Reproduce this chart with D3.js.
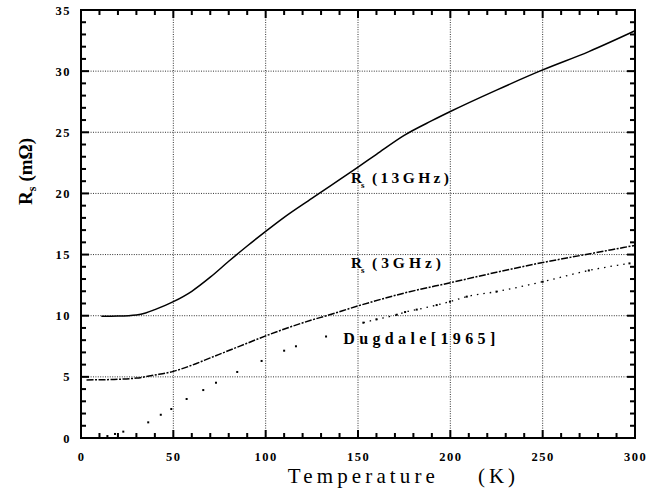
<!DOCTYPE html>
<meta charset="utf-8">
<script src="https://d3js.org/d3.v7.min.js"></script>
<div id="chart"></div>
<script>

// data: temperature (K) and surface resistance (mOhm)
var t13 = [11, 20, 30, 35, 40, 50, 60, 70, 80, 90, 100, 110, 125, 150, 160, 175, 190, 200, 225, 250, 275, 300];
var r13 = [9.95, 9.97, 10.06, 10.22, 10.5, 11.15, 12.0, 13.15, 14.45, 15.7, 16.9, 18.05, 19.6, 22.15, 23.2, 24.75, 25.95, 26.7, 28.45, 30.1, 31.6, 33.3];

var t3 = [3, 10, 20, 30, 40, 50, 60, 70, 80, 90, 100, 125, 133, 150, 175, 200, 225, 250, 275, 300];
var r3 = [4.75, 4.76, 4.8, 4.9, 5.15, 5.45, 5.95, 6.55, 7.15, 7.75, 8.35, 9.65, 10.0, 10.8, 11.85, 12.7, 13.55, 14.35, 15.05, 15.75];

var tDug = [14.3, 18.4, 22.9, 36.4, 43.2, 48.9, 57.2, 66.2, 73.1, 84.6, 97.8, 110, 116.4, 132.7, 152.9, 160, 171, 175.5, 181.8, 192.6, 199.8, 208.9, 225, 250, 275, 297];
var rDug = [0.16, 0.33, 0.52, 1.28, 1.9, 2.37, 3.19, 3.92, 4.52, 5.4, 6.3, 7.14, 7.5, 8.3, 9.43, 9.7, 10.08, 10.3, 10.5, 10.87, 11.15, 11.56, 11.97, 12.78, 13.7, 14.28];

var xTicks = [0, 50, 100, 150, 200, 250, 300];
var yTicks = [0, 5, 10, 15, 20, 25, 30, 35];

var margin = {top: 10, right: 25, bottom: 55, left: 81},
    width = 660 - margin.left - margin.right,
    height = 493 - margin.top - margin.bottom;

d3.select("body").style("margin", "0px");
var svg = d3.select("#chart")
  .append("svg")
    .attr("width", 660)
    .attr("height", 493)
  .append("g")
    .attr("transform", "translate(" + margin.left + "," + margin.top + ")");

var x = d3.scaleLinear().domain([0, 300]).range([0, width]);
var y = d3.scaleLinear().domain([0, 35]).range([height, 0]);

// dotted grid
svg.selectAll(null)
  .data(xTicks.slice(1, -1))
  .enter().append("line")
    .attr("x1", function(d){ return x(d) }).attr("x2", function(d){ return x(d) })
    .attr("y1", 0).attr("y2", height)
    .attr("stroke", "#333").attr("stroke-width", 1)
    .attr("stroke-dasharray", "1,1.4");
svg.selectAll(null)
  .data(yTicks.slice(1, -1))
  .enter().append("line")
    .attr("y1", function(d){ return y(d) }).attr("y2", function(d){ return y(d) })
    .attr("x1", 0).attr("x2", width)
    .attr("stroke", "#333").attr("stroke-width", 1)
    .attr("stroke-dasharray", "1,1.4");

// tick labels from d3 axes
var bx = svg.append("g").attr("transform", "translate(0," + height + ")")
  .call(d3.axisBottom(x).tickValues(xTicks).tickSize(0).tickPadding(14).tickFormat(d3.format("d")));
var ly = svg.append("g")
  .call(d3.axisLeft(y).tickValues(yTicks).tickSize(0).tickPadding(10).tickFormat(d3.format("d")));
[bx, ly].forEach(function(g){
  g.select(".domain").remove();
  g.selectAll("text")
    .attr("fill", "#000")
    .style("font-family", "'Liberation Serif', serif")
    .style("font-weight", "bold")
    .style("font-size", "12.5px")
    .style("letter-spacing", "1.5px");
});

svg.append("rect")
  .attr("width", width).attr("height", height)
  .attr("fill", "none").attr("stroke", "#000").attr("stroke-width", 2);

// inward ticks on all four sides, as small filled bars
var minorX = d3.range(0, 301, 10), minorY = d3.range(0, 36, 1);
function tlen(v, step) { return v % step === 0 ? 8 : 5; }
var tickG = svg.append("g").attr("fill", "#000");
tickG.selectAll(null).data(minorX).enter().append("rect")
  .attr("x", function(d){ return x(d) - 1 }).attr("width", 2)
  .attr("y", function(d){ return height - tlen(d, 50) })
  .attr("height", function(d){ return tlen(d, 50) });
tickG.selectAll(null).data(minorX).enter().append("rect")
  .attr("x", function(d){ return x(d) - 1 }).attr("width", 2)
  .attr("y", 0)
  .attr("height", function(d){ return tlen(d, 50) });
tickG.selectAll(null).data(minorY).enter().append("rect")
  .attr("y", function(d){ return y(d) - 1 }).attr("height", 2)
  .attr("x", 0)
  .attr("width", function(d){ return tlen(d, 5) });
tickG.selectAll(null).data(minorY).enter().append("rect")
  .attr("y", function(d){ return y(d) - 1 }).attr("height", 2)
  .attr("x", function(d){ return width - tlen(d, 5) })
  .attr("width", function(d){ return tlen(d, 5) });

// curves
var line = d3.line()
  .x(function(d){ return x(d[0]) })
  .y(function(d){ return y(d[1]) })
  .curve(d3.curveMonotoneX);

svg.append("path")
  .datum(d3.zip(t13, r13))
  .attr("d", line)
  .attr("fill", "none").attr("stroke", "#000").attr("stroke-width", 1.5);

svg.append("path")
  .datum(d3.zip(t3, r3))
  .attr("d", line)
  .attr("fill", "none").attr("stroke", "#000").attr("stroke-width", 1.5)
  .attr("stroke-dasharray", "7,1.5,2,1.5");

var dug = d3.zip(tDug, rDug);
svg.append("path")
  .datum(dug.filter(function(d){ return d[0] >= 150 }))
  .attr("d", line)
  .attr("fill", "none").attr("stroke", "#000").attr("stroke-width", 1.3)
  .attr("stroke-dasharray", "1.5,5");
svg.selectAll(null)
  .data(dug)
  .enter().append("rect")
    .attr("x", function(d){ return x(d[0]) - 1 })
    .attr("y", function(d){ return y(d[1]) - 1 })
    .attr("width", 2).attr("height", 2)
    .attr("fill", "#000");

// curve labels
function rsLabel(px, py, rest, len) {
  var g = svg.append("g")
    .attr("fill", "#000")
    .style("font-family", "'Liberation Serif', serif")
    .style("font-weight", "bold");
  g.append("text").attr("x", px).attr("y", py).style("font-size", "15px").text("R");
  g.append("text").attr("x", px + 10).attr("y", py + 5).style("font-size", "9px").text("s");
  g.append("text").attr("x", px + 21).attr("y", py).style("font-size", "15.5px")
    .attr("textLength", len).attr("lengthAdjust", "spacing").text(rest);
}
rsLabel(x(146.2), y(20.85), "(13GHz)", 77);
rsLabel(x(146.2), y(13.9), "(3GHz)", 69);

svg.append("text")
  .attr("x", x(142)).attr("y", y(7.7))
  .style("font-family", "'Liberation Serif', serif")
  .style("font-weight", "bold").style("font-size", "16px")
  .attr("textLength", 152).attr("lengthAdjust", "spacing")
  .text("Dugdale[1965]");

// axis titles
svg.append("text")
  .attr("x", x(112)).attr("y", height + 45)
  .style("font-family", "'Liberation Serif', serif").style("font-size", "21px")
  .attr("textLength", 147).attr("lengthAdjust", "spacing")
  .text("Temperature");
svg.append("text")
  .attr("x", x(215)).attr("y", height + 45)
  .style("font-family", "'Liberation Serif', serif").style("font-size", "21px")
  .attr("textLength", 37).attr("lengthAdjust", "spacing")
  .text("(K)");

var yt = svg.append("text")
  .attr("transform", "translate(" + (32 - margin.left) + "," + (205 - margin.top) + ") rotate(-90)")
  .style("font-family", "'Liberation Serif', serif")
  .style("font-weight", "bold").style("font-size", "19px");
yt.append("tspan").text("R");
yt.append("tspan").attr("dy", 4).style("font-size", "12px").text("s");
yt.append("tspan").attr("dy", -4).attr("dx", 5).text("(mΩ)");

</script>
